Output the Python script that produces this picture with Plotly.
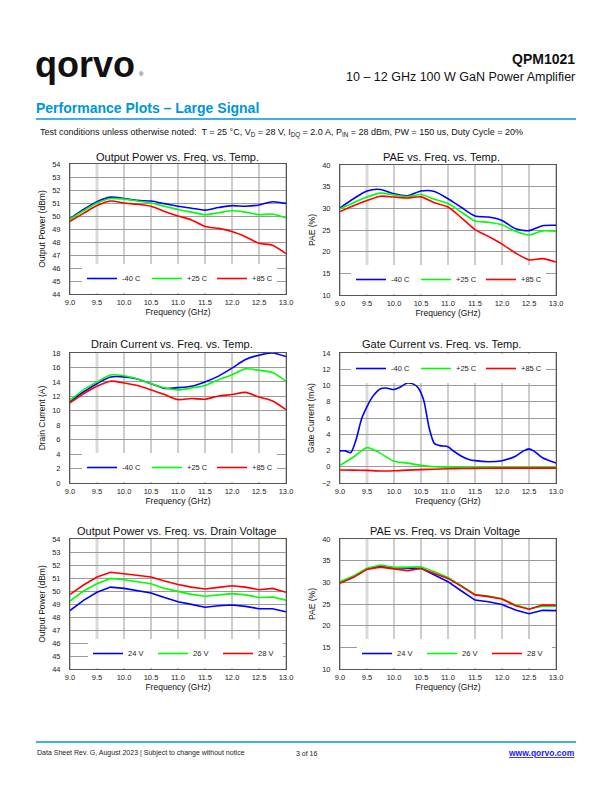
import plotly.graph_objects as go

# ---------------- data ----------------
freq = [9.0, 9.25, 9.5, 9.75, 10.0, 10.25, 10.5, 10.75, 11.0, 11.25, 11.5,
        11.75, 12.0, 12.25, 12.5, 12.75, 13.0]

temp_labels = ["-40 C", "+25 C", "+85 C"]
volt_labels = ["24 V", "26 V", "28 V"]

pout_m40 = [49.8, 50.5, 51.1, 51.45, 51.35, 51.2, 51.15, 50.95, 50.75, 50.6, 50.45, 50.65, 50.8, 50.75, 50.85, 51.1, 50.97]
pout_p25 = [49.75, 50.4, 51.0, 51.35, 51.3, 51.15, 51.0, 50.75, 50.5, 50.3, 50.1, 50.25, 50.4, 50.3, 50.1, 50.15, 49.85]
pout_p85 = [49.6, 50.2, 50.8, 51.15, 51.0, 50.9, 50.75, 50.35, 50.0, 49.7, 49.2, 49.05, 48.8, 48.4, 47.9, 47.75, 47.1]

pae_m40 = [30.1, 32.2, 34.0, 34.35, 33.35, 32.9, 34.0, 33.9, 32.2, 30.2, 28.25, 28.0, 27.2, 25.3, 24.85, 26.0, 26.1]
pae_p25 = [29.9, 31.3, 32.6, 33.5, 33.1, 32.7, 33.2, 32.1, 31.1, 29.1, 27.1, 26.8, 26.2, 24.7, 23.85, 24.8, 24.7]
pae_p85 = [29.25, 30.6, 31.8, 32.8, 32.6, 32.4, 32.65, 31.3, 30.3, 27.8, 25.1, 23.5, 21.75, 19.7, 18.1, 18.4, 17.6]

id_m40 = [11.3, 12.6, 13.75, 14.68, 14.7, 14.4, 13.75, 13.1, 13.2, 13.4, 14.0, 14.8, 15.9, 17.1, 17.7, 18.0, 17.5]
id_p25 = [11.45, 12.9, 14.0, 14.95, 14.85, 14.4, 13.75, 13.2, 12.9, 13.15, 13.5, 14.3, 15.0, 15.8, 15.6, 15.3, 14.1]
id_p85 = [11.1, 12.35, 13.4, 14.1, 13.85, 13.5, 12.9, 12.25, 11.55, 11.7, 11.6, 12.05, 12.25, 12.55, 11.9, 11.35, 10.15]

ig_freq_m40 = [9.0, 9.1, 9.2, 9.3, 9.4, 9.5, 9.6, 9.75, 9.85, 10.0, 10.1, 10.25, 10.35, 10.45,
               10.55, 10.65, 10.75, 10.85, 11.0, 11.1, 11.25, 11.4, 11.5, 11.75, 12.0, 12.25,
               12.4, 12.5, 12.6, 12.75, 13.0]
ig_m40 = [1.95, 1.95, 1.75, 3.4, 5.9, 7.4, 8.6, 9.6, 9.7, 9.5, 9.75, 10.3, 10.2, 9.7,
          8.2, 4.8, 2.84, 2.6, 2.47, 1.94, 1.3, 0.87, 0.75, 0.62, 0.75, 1.3,
          1.95, 2.2, 1.9, 1.1, 0.46]
ig_p25 = [0.17, 1.2, 2.35, 1.65, 0.67, 0.45, 0.17, 0.0, -0.05, -0.08, -0.08, -0.08, -0.08, -0.08, -0.08, -0.08, -0.08]
ig_p85 = [-0.4, -0.42, -0.45, -0.52, -0.5, -0.42, -0.35, -0.3, -0.25, -0.22, -0.2, -0.18, -0.17, -0.17, -0.17, -0.17, -0.17]

pv_24 = [48.5, 49.28, 49.9, 50.3, 50.2, 50.03, 49.85, 49.5, 49.18, 48.97, 48.75, 48.87, 48.92, 48.82, 48.64, 48.64, 48.4]
pv_26 = [49.23, 50.0, 50.56, 50.97, 50.87, 50.72, 50.56, 50.2, 49.95, 49.74, 49.6, 49.7, 49.8, 49.7, 49.5, 49.54, 49.3]
pv_28 = [49.74, 50.46, 51.08, 51.44, 51.33, 51.2, 51.08, 50.77, 50.5, 50.3, 50.15, 50.28, 50.4, 50.3, 50.1, 50.2, 49.9]

paev_24 = [30.0, 31.23, 33.1, 33.77, 33.38, 33.38, 33.23, 31.7, 30.15, 28.0, 25.9, 25.5, 24.9, 23.6, 22.77, 23.54, 23.46]
paev_26 = [30.15, 31.46, 33.23, 34.0, 33.46, 33.46, 33.6, 32.46, 31.1, 29.2, 27.2, 26.85, 26.2, 24.8, 23.85, 24.5, 24.5]
paev_28 = [29.77, 31.15, 33.0, 33.5, 33.1, 32.7, 33.2, 32.1, 30.9, 29.08, 27.1, 26.7, 26.15, 24.6, 23.8, 24.77, 24.7]

x_ticks = [9.0, 9.5, 10.0, 10.5, 11.0, 11.5, 12.0, 12.5, 13.0]
light_grid_at = 9.5

# ---------------- style ----------------
FONT = "Liberation Sans, Arial, sans-serif"
C_BLUE, C_GREEN, C_RED = "#0000FF", "#00FF00", "#FF0000"
QBLUE = "#0096D6"
GRID = "#9a9a9a"
W, H = 612, 792


def px(x):
    return x / W


def py(y):
    return 1 - y / H


panels = [
    dict(x0=70, x1=286, y0=164, y1=294, yr=[44, 54], dy=1, ytitle="Output Power (dBm)",
         title="Output Power vs. Freq. vs. Temp.", tx=177.5, ty=157,
         series=[(freq, pout_m40), (freq, pout_p25), (freq, pout_p85)], names=temp_labels,
         shape="spline", leg=dict(x=82, y=293, anchor="bottom")),
    dict(x0=340, x1=556, y0=165, y1=295, yr=[10, 40], dy=5, ytitle="PAE (%)",
         title="PAE vs. Freq. vs. Temp.", tx=441, ty=157,
         series=[(freq, pae_m40), (freq, pae_p25), (freq, pae_p85)], names=temp_labels,
         shape="spline", leg=dict(x=351, y=294, anchor="bottom")),
    dict(x0=70, x1=286, y0=353, y1=483, yr=[0, 18], dy=2, ytitle="Drain Current (A)",
         title="Drain Current vs. Freq. vs. Temp.", tx=172, ty=344,
         series=[(freq, id_m40), (freq, id_p25), (freq, id_p85)], names=temp_labels,
         shape="spline", leg=dict(x=82, y=482, anchor="bottom")),
    dict(x0=340, x1=556, y0=353, y1=483, yr=[-2, 14], dy=2, ytitle="Gate Current (mA)",
         title="Gate Current vs. Freq. vs. Temp.", tx=441, ty=344,
         series=[(ig_freq_m40, ig_m40), (freq, ig_p25), (freq, ig_p85)], names=temp_labels,
         shape="spline", leg=dict(x=351, y=354, anchor="top")),
    dict(x0=70, x1=286, y0=539, y1=669, yr=[44, 54], dy=1, ytitle="Output Power (dBm)",
         title="Output Power vs. Freq. vs. Drain Voltage", tx=176, ty=531,
         series=[(freq, pv_24), (freq, pv_26), (freq, pv_28)], names=volt_labels,
         shape="linear", leg=dict(x=88, y=668, anchor="bottom")),
    dict(x0=340, x1=556, y0=539, y1=669, yr=[10, 40], dy=5, ytitle="PAE (%)",
         title="PAE vs. Freq. vs Drain Voltage", tx=445, ty=531,
         series=[(freq, paev_24), (freq, paev_26), (freq, paev_28)], names=volt_labels,
         shape="linear", leg=dict(x=357, y=668, anchor="bottom")),
]

colors = [C_BLUE, C_GREEN, C_RED]

fig = go.Figure()
layout = dict(
    width=W, height=H, margin=dict(l=0, r=0, t=0, b=0, autoexpand=False),
    paper_bgcolor="white", plot_bgcolor="white",
    font=dict(family=FONT, color="#111"),
    showlegend=True,
)
annotations = []
shapes = []

for i, p in enumerate(panels):
    k = "" if i == 0 else str(i + 1)
    xa, ya = "x" + k, "y" + k
    legname = "legend" + k
    for (xs, ys), name, col in zip(p["series"], p["names"], colors):
        fig.add_trace(go.Scatter(
            x=xs, y=ys, name=name, mode="lines",
            line=dict(color=col, width=1.6, shape=p["shape"], smoothing=0.7),
            xaxis=xa, yaxis=ya, legend=legname, hoverinfo="skip"))
    layout["xaxis" + k] = dict(
        domain=[px(p["x0"]), px(p["x1"])], anchor=ya, range=[9, 13],
        tickvals=x_ticks, tickformat=".1f", showgrid=False,
        showline=True, linecolor="#555", linewidth=1, mirror=True,
        ticks="", ticklabelstandoff=1, zeroline=False,
        tickfont=dict(size=7.5, color="#222"),
        title=dict(text="Frequency (GHz)", font=dict(size=8.5, color="#111"), standoff=2))
    layout["yaxis" + k] = dict(
        domain=[py(p["y1"]), py(p["y0"])], anchor=xa, range=p["yr"], dtick=p["dy"],
        tick0=p["yr"][0], showgrid=True, gridcolor=GRID, gridwidth=1,
        showline=True, linecolor="#555", linewidth=1, mirror=True, zeroline=False,
        ticks="", ticklabelstandoff=7, tickfont=dict(size=7.5, color="#222"),
        title=dict(text=p["ytitle"], font=dict(size=8.5, color="#111"), standoff=5))
    lg = p["leg"]
    layout[legname] = dict(
        orientation="h", x=px(lg["x"]), xanchor="left", y=py(lg["y"]),
        yanchor=lg["anchor"], bgcolor="white", borderwidth=0,
        font=dict(size=7.5, color="#222"), itemwidth=30, tracegroupgap=0,
        entrywidth=20, entrywidthmode="pixels", traceorder="normal")
    # vertical grid lines (the one at 9.5 GHz is lighter and wider in the original)
    for xv in x_ticks:
        light = xv == light_grid_at
        shapes.append(dict(type="line", xref=xa, yref=ya + " domain", x0=xv, x1=xv,
                           y0=0, y1=1, layer="below",
                           line=dict(color="#dadada" if light else GRID,
                                     width=3 if light else 1)))
    annotations.append(dict(text=p["title"], x=px(p["tx"]), y=py(p["ty"]),
                            xanchor="center", yanchor="middle",
                            font=dict(size=11, color="#111")))

# ---------------- page header / footer ----------------
annotations += [
    dict(text="<b>qorvo</b>", x=px(33), y=py(64.5), xanchor="left", yanchor="middle",
         font=dict(size=36, color="#111", family="Liberation Sans, Arial")),
    dict(text="®", x=px(137), y=py(74), xanchor="left", yanchor="middle",
         font=dict(size=6, color="#111")),
    dict(text="<b>QPM1021</b>", x=px(577), y=py(59), xanchor="right", yanchor="middle",
         font=dict(size=14, color="#111")),
    dict(text="10 – 12 GHz 100 W GaN Power Amplifier", x=px(577), y=py(77),
         xanchor="right", yanchor="middle", font=dict(size=12.5, color="#111")),
    dict(text="<b>Performance Plots – Large Signal</b>", x=px(34), y=py(108),
         xanchor="left", yanchor="middle",
         font=dict(size=14, color=QBLUE, family="Liberation Sans, Arial")),
    dict(text="Test conditions unless otherwise noted:  T = 25 °C, V<sub>D</sub> = 28 V, "
              "I<sub>DQ</sub> = 2.0 A, P<sub>IN</sub> = 28 dBm, PW = 150 us, Duty Cycle = 20%",
         x=px(38), y=py(133), xanchor="left", yanchor="middle",
         font=dict(size=9, color="#111")),
    dict(text="Data Sheet Rev. G, August 2023 | Subject to change without notice",
         x=px(35), y=py(753), xanchor="left", yanchor="middle",
         font=dict(size=7, color="#222")),
    dict(text="3 of 16", x=px(294), y=py(753), xanchor="left", yanchor="middle",
         font=dict(size=7, color="#222")),
    dict(text="<b><u>www.qorvo.com</u></b>", x=px(577), y=py(753), xanchor="right",
         yanchor="middle", font=dict(size=8.5, color="#1a1aff")),
]
for a in annotations:
    a.setdefault("xref", "paper")
    a.setdefault("yref", "paper")
    a.setdefault("showarrow", False)

shapes += [
    dict(type="line", xref="paper", yref="paper", x0=px(36), x1=px(576),
         y0=py(119), y1=py(119), line=dict(color=QBLUE, width=1.3)),
    dict(type="line", xref="paper", yref="paper", x0=px(36), x1=px(576),
         y0=py(742), y1=py(742), line=dict(color=QBLUE, width=1.3)),
]

layout["annotations"] = annotations
layout["shapes"] = shapes
fig.update_layout(**layout)

fig.write_html("out.html", config={"displayModeBar": False},
               post_script="document.body.style.margin='0';")
